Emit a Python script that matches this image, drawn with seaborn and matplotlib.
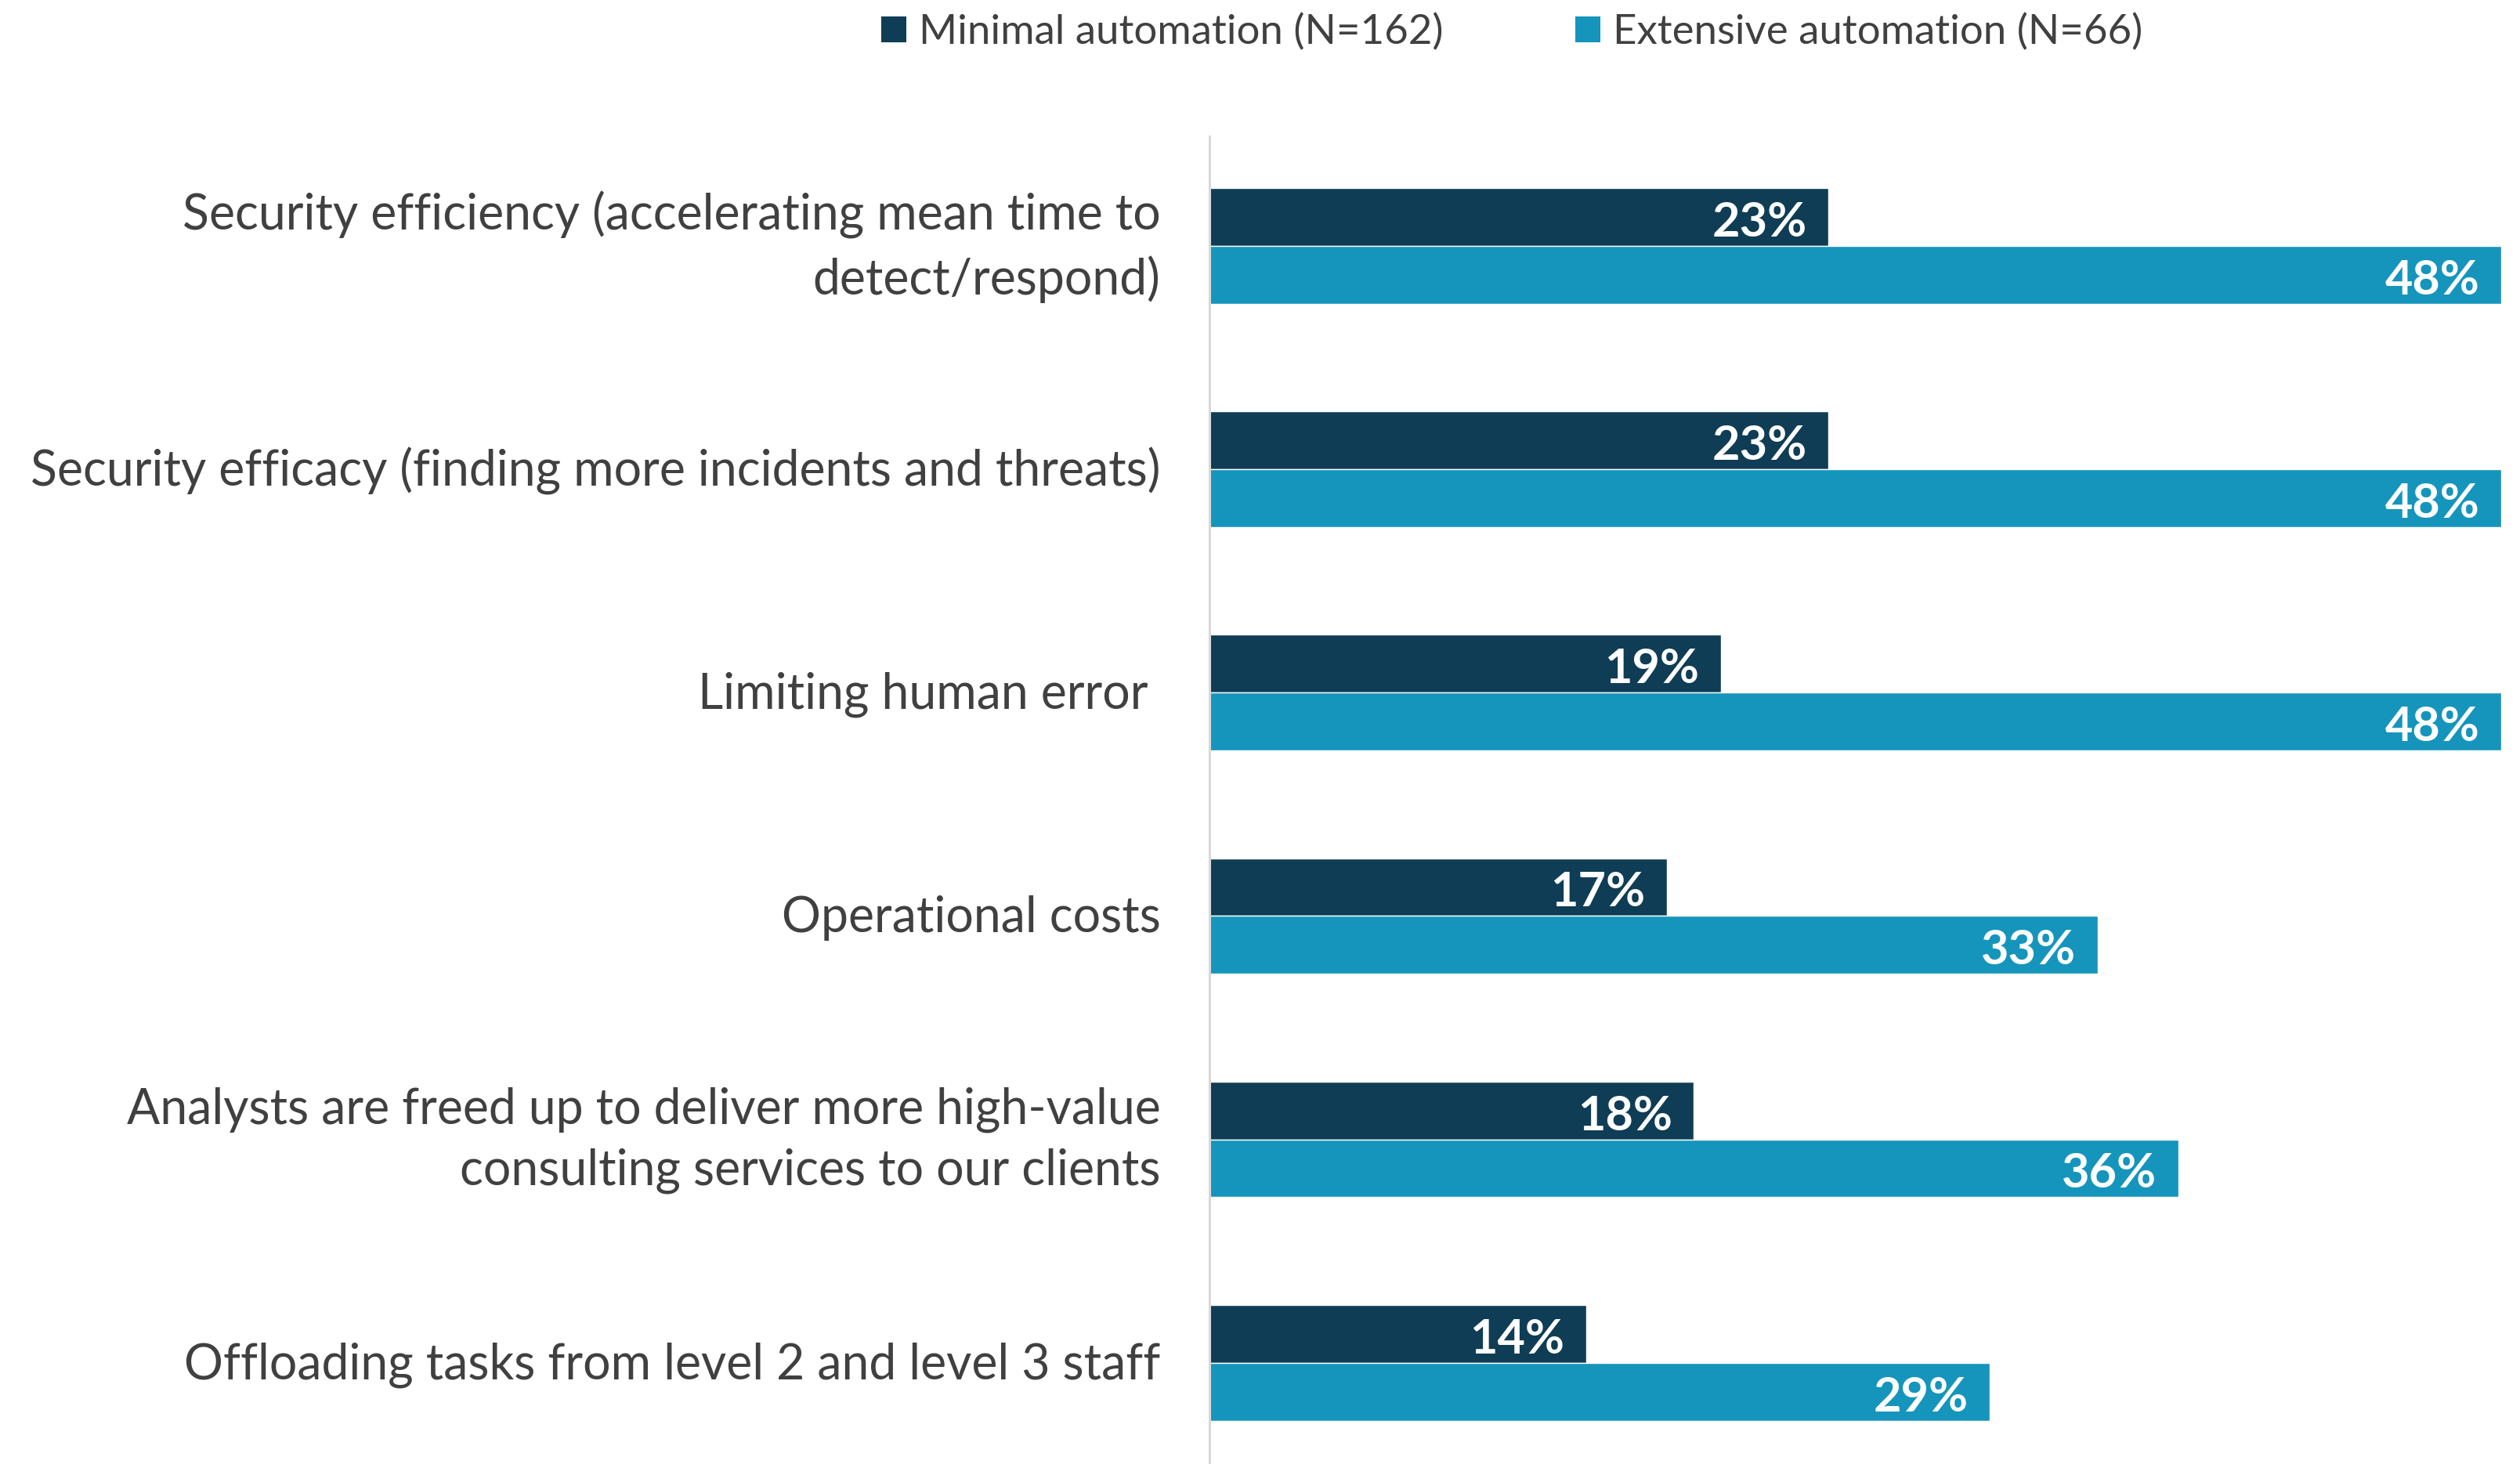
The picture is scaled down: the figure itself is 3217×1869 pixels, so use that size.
import matplotlib
matplotlib.use("Agg")
import matplotlib.pyplot as plt
from matplotlib.patches import Patch
import seaborn as sns
import pandas as pd

categories = [
    "Security efficiency (accelerating mean time to\ndetect/respond)",
    "Security efficacy (finding more incidents and threats)",
    "Limiting human error ",
    "Operational costs",
    "Analysts are freed up to deliver more high-value\nconsulting services to our clients",
    "Offloading tasks from level 2 and level 3 staff",
]
series_names = ["Minimal automation (N=162)", "Extensive automation (N=66)"]
minimal_values = [23, 23, 19, 17, 18, 14]
extensive_values = [48, 48, 48, 33, 36, 29]

colors = ["#0f3d55", "#1595bc"]
text_color = "#404040"

sns.set_theme(style="white")
plt.rcParams["font.family"] = ["Lato", "DejaVu Sans"]

df = pd.DataFrame({
    "category": categories * 2,
    "series": [series_names[0]] * len(categories) + [series_names[1]] * len(categories),
    "value": minimal_values + extensive_values,
})

fig = plt.figure(figsize=(32.17, 18.69), dpi=100)
ax = fig.add_axes([0.48, 0.0, 0.52, 0.907])

sns.barplot(
    data=df, y="category", x="value", hue="series", order=categories,
    hue_order=series_names, palette=colors, orient="h", width=0.518,
    saturation=1, ax=ax, legend=False, errorbar=None,
)

ax.set_xlim(0, 48.7)
ax.set_ylim(5.453, -0.491)
ax.set_xlabel("")
ax.set_ylabel("")
ax.set_xticks([])
for side in ["top", "right", "bottom"]:
    ax.spines[side].set_visible(False)
ax.spines["left"].set_color("#d9d9d9")
ax.spines["left"].set_linewidth(2.2)
ax.tick_params(axis="y", length=0)

# category labels, right-aligned left of the axis line
tick_pos = ax.get_yticks()
ax.set_yticklabels([])
for y, cat in zip(tick_pos, categories):
    dy = -1 if "\n" in cat else -2
    ax.annotate(
        cat, (0, y), xycoords=("axes fraction", "data"), xytext=(-45, dy),
        textcoords="offset points", ha="right", va="center", fontsize=45,
        color=text_color, linespacing=1.42, multialignment="right",
    )

# value labels, right-aligned inside each bar end
for container, vals in zip(ax.containers, [minimal_values, extensive_values]):
    for patch, v in zip(container.patches, vals):
        ax.annotate(
            f"{v}%", (patch.get_width(), patch.get_y() + patch.get_height() / 2),
            xytext=(-20, -5), textcoords="offset points", ha="right", va="center",
            color="white", fontsize=44, fontweight="bold",
        )

handles = [Patch(facecolor=c, edgecolor="none") for c in colors]
fig.legend(
    handles, series_names, loc="center", bbox_to_anchor=(0.6, 0.978), ncol=2,
    frameon=False, fontsize=38, labelcolor=text_color, handlelength=0.6,
    handleheight=0.6, handletextpad=0.3, columnspacing=3.2,
)

fig.savefig("out.png", dpi=100, facecolor="white")
